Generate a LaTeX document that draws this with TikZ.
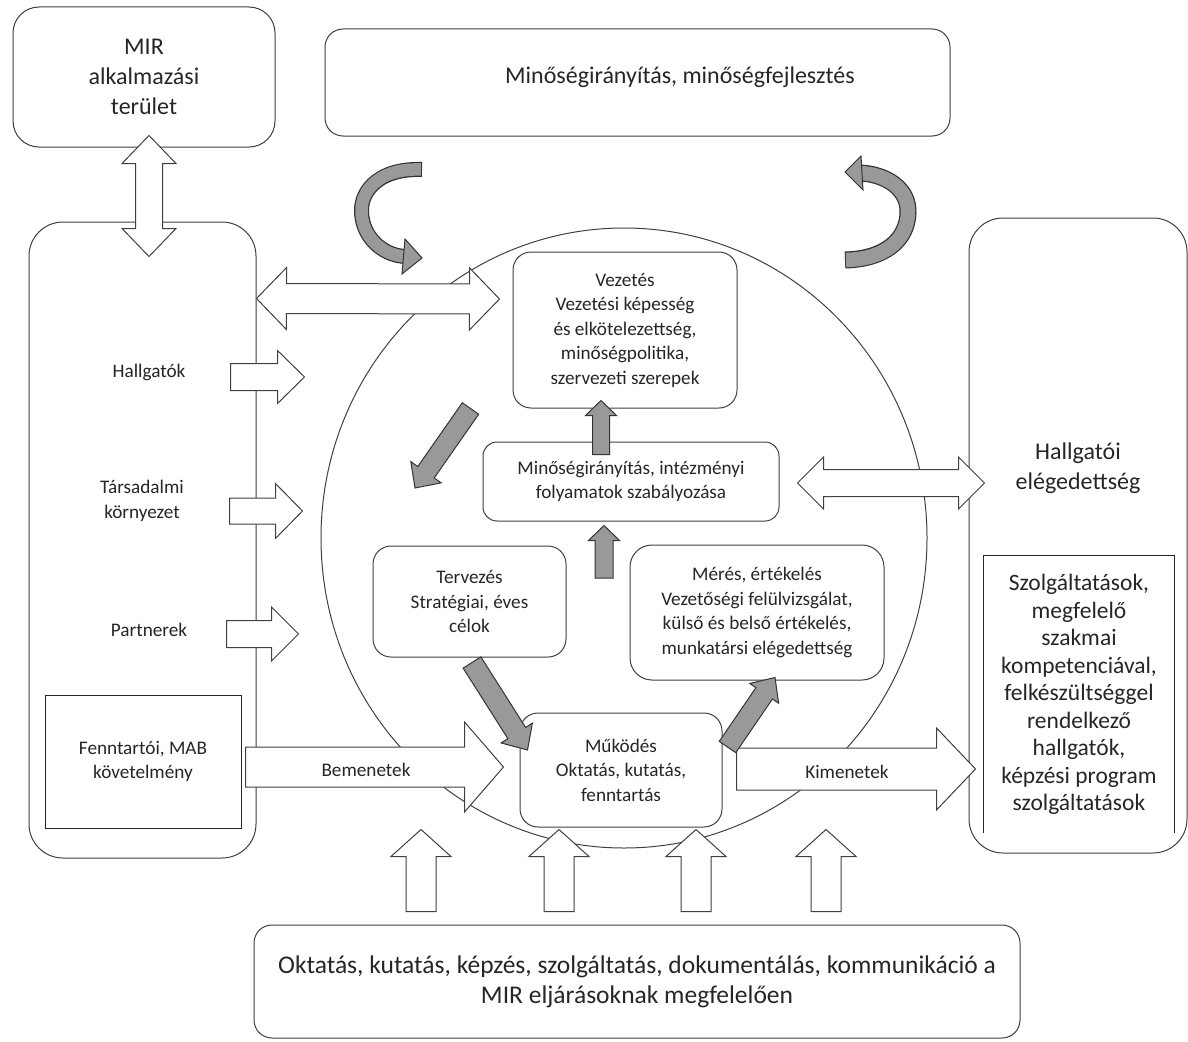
\documentclass[tikz,border=0pt]{standalone}
\usepackage{fontspec}
\setmainfont{Carlito}
\usetikzlibrary{calc}
\definecolor{linegray}{gray}{0.25}
\definecolor{hatchgray}{gray}{0.6}
\tikzstyle{box}=[draw=linegray,line width=1pt,fill=white,rounded corners=18pt,align=center,inner sep=0pt,text=black!85]
\tikzstyle{label}=[align=center,inner sep=0pt,text=black!85]
\tikzstyle{bigtext}=[font=\fontsize{24}{30}\selectfont]
\tikzstyle{midtext}=[font=\fontsize{23.5}{27.5}\selectfont]
\tikzstyle{basetext}=[font=\fontsize{25.5}{30}\selectfont]
\tikzstyle{smalltext}=[font=\fontsize{19.2}{24.5}\selectfont]
\tikzstyle{whitearrow}=[draw=linegray,line width=1pt,fill=white,line join=miter]
\tikzstyle{grayarrow}=[draw=black!80,line width=1pt,fill=hatchgray,line join=miter]

% block arrow: [style]{tail}{tip}{half shaft}{half head}{head length}
\newcommand{\blockarrow}[6][whitearrow]{%
  \draw[#1] let \p1=(#2), \p2=(#3), \n1={atan2(\y2-\y1,\x2-\x1)}, \n2={veclen(\x2-\x1,\y2-\y1)} in
    ($(\p1)+(\n1+90:#4pt)$)
    -- ($(\p1)+(\n1:{\n2-#6pt})+(\n1+90:#4pt)$)
    -- ($(\p1)+(\n1:{\n2-#6pt})+(\n1+90:#5pt)$)
    -- (\p2)
    -- ($(\p1)+(\n1:{\n2-#6pt})+(\n1-90:#5pt)$)
    -- ($(\p1)+(\n1:{\n2-#6pt})+(\n1-90:#4pt)$)
    -- ($(\p1)+(\n1-90:#4pt)$) -- cycle;}
% double headed block arrow
\newcommand{\dblarrow}[6][whitearrow]{%
  \draw[#1] let \p1=(#2), \p2=(#3), \n1={atan2(\y2-\y1,\x2-\x1)}, \n2={veclen(\x2-\x1,\y2-\y1)} in
    (\p1)
    -- ($(\p1)+(\n1:#6pt)+(\n1+90:#5pt)$)
    -- ($(\p1)+(\n1:#6pt)+(\n1+90:#4pt)$)
    -- ($(\p1)+(\n1:{\n2-#6pt})+(\n1+90:#4pt)$)
    -- ($(\p1)+(\n1:{\n2-#6pt})+(\n1+90:#5pt)$)
    -- (\p2)
    -- ($(\p1)+(\n1:{\n2-#6pt})+(\n1-90:#5pt)$)
    -- ($(\p1)+(\n1:{\n2-#6pt})+(\n1-90:#4pt)$)
    -- ($(\p1)+(\n1:#6pt)+(\n1-90:#4pt)$)
    -- ($(\p1)+(\n1:#6pt)+(\n1-90:#5pt)$) -- cycle;}

\begin{document}
\begin{tikzpicture}[x=1pt,y=-1pt]
\useasboundingbox (0,0) rectangle (1188,1041);

% the cycle
\draw[linegray,line width=1pt] (624,538) ellipse [x radius=303, y radius=310];

% outer boxes
\node[box,bigtext,rounded corners=26pt,minimum width=262pt,minimum height=140pt] (mir) at (144,77) {MIR\\alkalmazási\\terület};
\node[box,minimum width=625pt,minimum height=107pt] (banner) at (637.5,82.5) {};
\node[label,bigtext,anchor=west] (bannertext) at (505,77) {Minőségirányítás, minőségfejlesztés};
\node[box,rounded corners=34pt,minimum width=227pt,minimum height=636pt] (inputs) at (142.5,540) {};
\node[box,rounded corners=34pt,minimum width=218pt,minimum height=635pt] (outputs) at (1078,535.5) {};
\node[box,basetext,minimum width=766pt,minimum height=113pt] (bottom) at (637,981.5) {Oktatás, kutatás, képzés, szolgáltatás, dokumentálás, kommunikáció a\\MIR eljárásoknak megfelelően};

% left column
\node[label,smalltext] (hallgatok) at (149,372) {Hallgatók};
\node[label,smalltext] (tarsadalmi) at (142,501) {Társadalmi\\környezet};
\node[label,smalltext] (partnerek) at (149,630) {Partnerek};
\node[box,smalltext,draw=black!85,rounded corners=0pt,minimum width=196pt,minimum height=133pt] (fenn) at (143,761.5) {Fenntartói, MAB\\követelmény};

% right column
\node[label,bigtext] (elegedett) at (1078,468) {Hallgatói\\elégedettség};
\node[label,midtext,minimum width=190pt,minimum height=277pt] (szolg) at (1079,694.5) {Szolgáltatások,\\megfelelő\\szakmai\\kompetenciával,\\felkészültséggel\\rendelkező\\hallgatók,\\képzési program\\szolgáltatások};
\draw[black!85,line width=1.2pt] (szolg.south west) |- (szolg.north east) -- (szolg.south east);

% inner boxes
\node[box,smalltext,minimum width=224pt,minimum height=156pt] (vezetes) at (625,330) {Vezetés\\Vezetési képesség\\és elkötelezettség,\\minőségpolitika,\\szervezeti szerepek};
\node[box,smalltext,rounded corners=14pt,minimum width=296pt,minimum height=79pt] (szabaly) at (631,481.5) {Minőségirányítás, intézményi\\folyamatok szabályozása};
\node[box,smalltext,minimum width=193pt,minimum height=111pt] (tervezes) at (469.5,601.5) {Tervezés\\Stratégiai, éves\\célok};
\node[box,smalltext,rounded corners=22pt,minimum width=254pt,minimum height=135pt] (meres) at (757,612.5) {Mérés, értékelés\\Vezetőségi felülvizsgálat,\\külső és belső értékelés,\\munkatársi elégedettség};
\node[box,smalltext,minimum width=202pt,minimum height=114pt] (mukodes) at (621,770) {Működés\\Oktatás, kutatás,\\fenntartás};

% white arrows
\dblarrow{$(mir.south)+(5,-12)$}{$(inputs.north)+(6.5,35)$}{13.5}{27}{28}
\dblarrow{$(inputs.north east)+(0,77)$}{$(vezetes.west)+(-13,-31)$}{15}{31}{30}
\blockarrow{$(inputs.east|-hallgatok)+(-26,5)$}{$(inputs.east|-hallgatok)+(48,5)$}{13.5}{26.5}{27}
\blockarrow{$(inputs.east|-tarsadalmi)+(-27,10)$}{$(inputs.east|-tarsadalmi)+(46,10)$}{13}{27.5}{27}
\blockarrow{$(inputs.east|-partnerek)+(-30,4)$}{$(inputs.east|-partnerek)+(42,4)$}{13.5}{27}{27}
\blockarrow{$(fenn.east)+(4,5.5)$}{$(mukodes.west)+(-16,-3)$}{20}{45}{39}
\blockarrow{$(mukodes.east)+(14,-1)$}{$(mukodes.east)+(253,-1)$}{21}{41}{39}
\dblarrow{$(szabaly.east)+(18,1.5)$}{$(szabaly.east)+(205,1.5)$}{13.5}{26}{26}
\foreach \dx in {-216,-78,59,189}
  \blockarrow{$(bottom.north)+(\dx,-13)$}{$(bottom.north)+(\dx,-95)$}{15}{30}{27};
\node[label,smalltext] (bemenetek) at (366,770) {Bemenetek};
\node[label,smalltext] (kimenetek) at (847,772) {Kimenetek};

% gray arrows of the cycle
\coordinate (toplan) at (415,488);
\coordinate (fromdo) at (604,578);
\blockarrow[grayarrow]{$(vezetes.south west)+(-42,0)$}{toplan}{10}{18.5}{19}
\blockarrow[grayarrow]{$(szabaly.north)+(-30,13)$}{$(vezetes.south)+(-24,-8)$}{8.5}{15.5}{15}
\blockarrow[grayarrow]{fromdo}{$(szabaly.south)+(-27,4)$}{9}{15.5}{15}
\blockarrow[grayarrow]{$(tervezes.south)+(2.5,5)$}{$(mukodes.west)+(8,-20)$}{10.5}{18.5}{20}
\blockarrow[grayarrow]{$(mukodes.east)+(5,-23)$}{$(meres.south)+(18,-3)$}{10}{17.5}{19}

% curved arrows
\draw[black!80,line width=15pt] (422,169.5) .. controls (375,168) and (358,195) .. (362,217) .. controls (365,240) and (385,256) .. (406,256.5);
\draw[hatchgray,line width=12.5pt] (421,169.5) .. controls (375,168) and (358,195) .. (362,217) .. controls (365,240) and (385,256) .. (406,256.5);
\filldraw[grayarrow] (405,239) -- (422,258) -- (402,274) -- cycle;
\draw[black!80,line width=17pt] (845,260) .. controls (885,259) and (907,240) .. (908,213) .. controls (909,188) and (885,174) .. (860,173);
\draw[hatchgray,line width=14.5pt] (846,260) .. controls (885,259) and (907,240) .. (908,213) .. controls (909,188) and (885,174) .. (860,173);
\filldraw[grayarrow] (861,156) -- (845,172) -- (863,190) -- cycle;
\end{tikzpicture}
\end{document}
